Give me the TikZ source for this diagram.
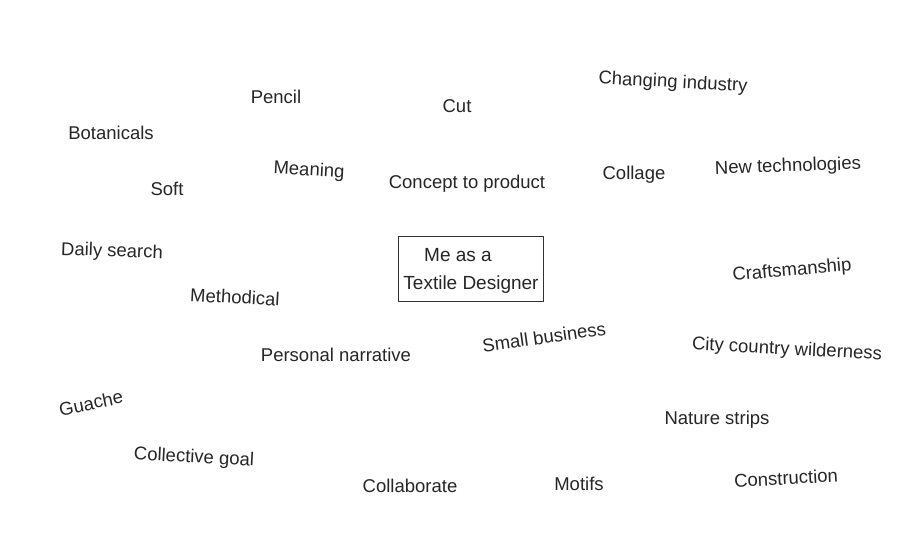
\documentclass[tikz,border=0pt]{standalone}
\usepackage{fontspec}
\setmainfont{Liberation Sans}
\begin{document}
\begin{tikzpicture}[x=1pt,y=-1pt,
  word/.style={font=\fontsize{18.5}{22}\selectfont, text=black!85, inner sep=1pt},
  centrebox/.style={draw=black!80, line width=1pt, minimum width=145pt, minimum height=65pt, inner sep=0pt}]
\useasboundingbox[fill=white] (0,0) rectangle (904,554);
\node[centrebox] (center) at (470.5,268.5) {};
\node[word, font=\fontsize{19}{22}\selectfont] (me) at (458,255) {Me as a};
\node[word, font=\fontsize{19}{22}\selectfont] (td) at (471,285) {Textile Designer};
\node[word] (pencil) at (276,97) {Pencil};
\node[word] (cut) at (457,106) {Cut};
\node[word, rotate=-3] (changing) at (673,83) {Changing industry};
\node[word] (botanicals) at (111,133) {Botanicals};
\node[word, rotate=-3] (meaning) at (309,171) {Meaning};
\node[word] (concept) at (467,184) {Concept to product};
\node[word] (collage) at (634,175) {Collage};
\node[word, rotate=2] (newtech) at (788,167) {New technologies};
\node[word] (soft) at (167,189) {Soft};
\node[word, rotate=-2] (daily) at (112,252) {Daily search};
\node[word, rotate=5] (crafts) at (792,271) {Craftsmanship};
\node[word, rotate=-3] (methodical) at (235,297) {Methodical};
\node[word, rotate=8] (small) at (544,337) {Small business};
\node[word] (personal) at (336,355) {Personal narrative};
\node[word, rotate=-3] (city) at (787,350) {City country wilderness};
\node[word, rotate=12] (guache) at (91,403) {Guache};
\node[word] (nature) at (717,420) {Nature strips};
\node[word, rotate=-3] (collective) at (194,458) {Collective goal};
\node[word] (collaborate) at (410,486) {Collaborate};
\node[word] (motifs) at (579,484) {Motifs};
\node[word, rotate=3] (construction) at (786,478) {Construction};
\end{tikzpicture}
\end{document}
